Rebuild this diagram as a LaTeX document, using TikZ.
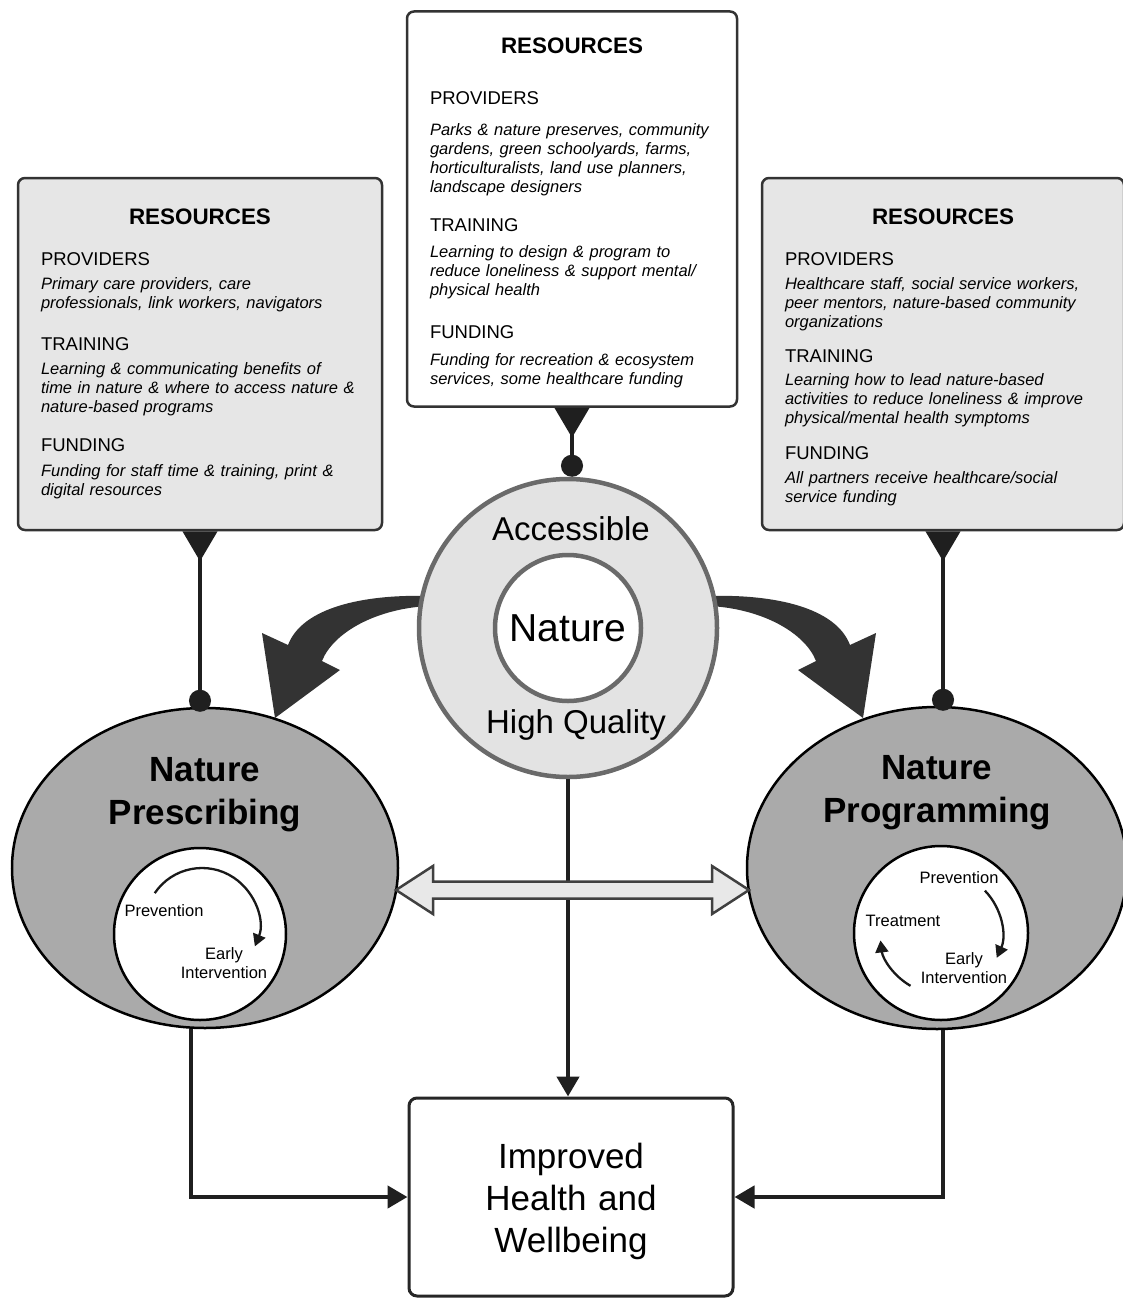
\documentclass[tikz,border=0pt]{standalone}
\usepackage{fontspec}
\setmainfont{Liberation Sans}
\usetikzlibrary{arrows.meta,shapes.geometric}
\definecolor{shell}{HTML}{E6E6E6}
\definecolor{ringline}{HTML}{6A6A6A}
\definecolor{swoopgray}{HTML}{333333}
\newcommand{\restitle}[1][0pt]{\makebox[\hsize]{\rule{0pt}{#1}\fontsize{22.4}{19}\selectfont\bfseries RESOURCES}}
\newcommand{\reskey}[1]{{\fontsize{18.5}{19}\selectfont #1}}

\begin{document}
\begin{tikzpicture}[x=1pt,y=1pt,
  resbox/.style={draw=black!80, line width=2.5pt, rounded corners=7pt,
    inner xsep=23pt, align=left, font=\fontsize{16.5}{19}\selectfont},
  blob/.style={ellipse, draw=black, line width=2.5pt, fill=gray!67},
  cycle ring/.style={circle, draw=black, line width=2.5pt, fill=white},
  bighead/.style={align=center, font=\bfseries\fontsize{35}{43}\selectfont},
  ringtext/.style={font=\fontsize{33}{40}\selectfont},
  cyctext/.style={align=center, font=\fontsize{16.5}{19}\selectfont},
  link/.style={draw=black!88, line width=4.5pt, shorten >=-5pt,
    {Triangle[reversed,width=34pt,length=30pt]}-{Circle[length=22pt]}},
  flow/.style={draw=black!88, line width=4.5pt, -{Triangle[width=22pt,length=20pt]}},
  turn/.style={draw=black!90, line width=2.3pt, -{Triangle[width=13pt,length=12pt]}}]
  \useasboundingbox (0,0) rectangle (1122,-1298);

  \fill[swoopgray] (430,-596) .. controls (362,-594) and (302,-608) .. (288,-645)
    -- (262,-633) -- (275,-718) -- (340,-670) -- (322,-661)
    .. controls (333,-633) and (375,-609) .. (428,-606) -- cycle;
  \fill[swoopgray] (708,-596) .. controls (776,-594) and (836,-608) .. (850,-645)
    -- (876,-633) -- (863,-718) -- (798,-670) -- (816,-661)
    .. controls (805,-633) and (763,-609) .. (710,-606) -- cycle;

  \node[circle, draw=ringline, line width=4.5pt, fill=gray!22, minimum size=298pt] (ring) at (568,-628) {};
  \node[circle, draw=ringline, line width=4.5pt, fill=white, minimum size=146pt,
    font=\fontsize{39}{45}\selectfont] (core) at (568,-628) {Nature};
  \node[ringtext] (acc) at (571,-529) {Accessible};
  \node[ringtext] (hq) at (576,-725) {High Quality};

  \node[resbox, fill=white, text width=284pt, minimum height=395pt] (tres) at (572,-209) {\restitle[24pt]\\[32pt]
    \reskey{PROVIDERS}\\[12pt]
    {\itshape Parks \& nature preserves, community\\gardens, green schoolyards, farms,\\horticulturalists, land use planners,\\landscape designers}\\[20pt]
    \reskey{TRAINING}\\[7pt]
    {\itshape Learning to design \& program to\\reduce loneliness \& support mental/\\physical health}\\[24pt]
    \reskey{FUNDING}\\[8pt]
    {\itshape Funding for recreation \& ecosystem\\services, some healthcare funding}};

  \node[resbox, fill=shell, text width=318pt, minimum height=352pt] (lres) at (200,-354) {\restitle\\[22pt]
    \reskey{PROVIDERS}\\[5pt]
    {\itshape Primary care providers, care\\professionals, link workers, navigators}\\[23pt]
    \reskey{TRAINING}\\[5pt]
    {\itshape Learning \& communicating benefits of\\time in nature \& where to access nature \&\\nature-based programs}\\[20pt]
    \reskey{FUNDING}\\[6pt]
    {\itshape Funding for staff time \& training, print \&\\digital resources}};

  \node[resbox, fill=shell, text width=316pt, minimum height=352pt] (rres) at (943,-354) {\restitle[22pt]\\[22pt]
    \reskey{PROVIDERS}\\[5pt]
    {\itshape Healthcare staff, social service workers,\\peer mentors, nature-based community\\organizations}\\[16pt]
    \reskey{TRAINING}\\[4pt]
    {\itshape Learning how to lead nature-based\\activities to reduce loneliness \& improve\\physical/mental health symptoms}\\[17pt]
    \reskey{FUNDING}\\[5pt]
    {\itshape All partners receive healthcare/social\\service funding}};

  \node[blob, minimum width=386pt, minimum height=320pt] (presc) at (205,-868) {};
  \node[blob, minimum width=380pt, minimum height=322pt] (prog) at (937,-868) {};
  \node[bighead] (prescT) at (205,-795) {Nature\\Prescribing};
  \node[bighead] (progT) at (937,-793) {Nature\\Programming};

  \node[cycle ring, minimum size=172pt] (pcyc) at (200,-934) {};
  \node[cycle ring, minimum size=174pt] (gcyc) at (941,-933) {};
  \node[cyctext] (pprev) at (164,-911) {Prevention};
  \node[cyctext] (pearly) at (224,-963) {Early\\Intervention};
  \node[cyctext] (gprev) at (959,-878) {Prevention};
  \node[cyctext] (gtreat) at (903,-921) {Treatment};
  \node[cyctext] (gearly) at (964,-968) {Early\\Intervention};
  \draw[turn] (202,-925) ++(146:57) arc[start angle=146, end angle=-22, radius=57];
  \draw[turn] (gcyc.center) ++(44:61) arc[start angle=44, end angle=-24, radius=61];
  \draw[turn] (gcyc.center) ++(240:61) arc[start angle=240, end angle=187, radius=61];

  \draw[link, shorten >=0pt] (tres.south) -- (tres.south |- ring.north);
  \draw[link] (lres.south) -- (lres.south |- presc.north);
  \draw[link] (rres.south) -- (rres.south |- prog.north);

  \node[draw=black!85, line width=3pt, rounded corners=8pt, fill=white, align=center,
    text width=300pt, inner xsep=12pt, minimum height=198pt, font=\fontsize{35}{42}\selectfont]
    (health) at (571,-1197) {\rule{0pt}{34pt}Improved\\Health and\\Wellbeing};

  \draw[flow] (ring.south) -- (ring.south |- health.north);
  \draw[flow] ([xshift=-14pt]presc.south) |- (health.west);
  \draw[flow] ([xshift=6pt]prog.south) |- (health.east);

  \coordinate (bl) at (396,-890);
  \draw[draw=black!75, line width=2.5pt, fill=gray!18, line join=miter]
    (bl) -- ++(37,24) -- ++(0,-15.5) -- ++(279,0) -- ++(0,15.5) -- ++(37,-24)
    -- ++(-37,-24) -- ++(0,15.5) -- ++(-279,0) -- ++(0,-15.5) -- cycle;
\end{tikzpicture}
\end{document}
